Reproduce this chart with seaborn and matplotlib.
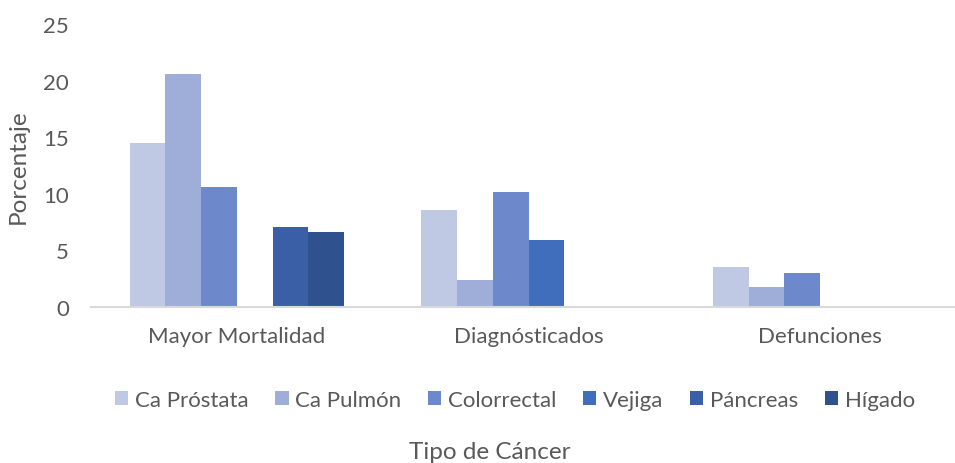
import pandas as pd
import matplotlib.pyplot as plt
import seaborn as sns

# categories and series
categorias = ['Mayor Mortalidad', 'Diagnósticados', 'Defunciones']
series = ['Ca Próstata', 'Ca Pulmón', 'Colorrectal', 'Vejiga', 'Páncreas', 'Hígado']
prostata = [14.5, 8.6, 3.5]
pulmon = [20.6, 2.4, 1.8]
colorrectal = [10.6, 10.2, 3.0]
vejiga = [None, 5.9, None]
pancreas = [7.1, None, None]
higado = [6.6, None, None]

colores = ['#BFC9E3', '#9FAED8', '#6D89CB', '#416EBC', '#3A5FA6', '#2F528F']
gris = '#595959'

valores = [prostata, pulmon, colorrectal, vejiga, pancreas, higado]
rows = []
for serie, vals in zip(series, valores):
    for cat, v in zip(categorias, vals):
        rows.append({'Tipo': cat, 'Serie': serie, 'Porcentaje': v})
df = pd.DataFrame(rows).dropna()

sns.set_style('white')
plt.rcParams['font.family'] = ['Lato', 'DejaVu Sans']

fig = plt.figure(figsize=(9.55, 4.64), dpi=100)
ax = fig.add_axes([91 / 955, 1 - 308 / 464, 875 / 955, 283 / 464])

sns.barplot(data=df, x='Tipo', y='Porcentaje', hue='Serie', order=categorias,
            hue_order=series, palette=colores, width=0.735, gap=0,
            errorbar=None, saturation=1, linewidth=0, ax=ax)

ax.set_ylim(0, 25)
ax.set_xlim(-0.5, 2.5)
ax.set_yticks([0, 5, 10, 15, 20, 25])
ax.tick_params(axis='both', length=0, labelsize=16, labelcolor=gris)
ax.tick_params(axis='y', pad=16)
ax.tick_params(axis='x', pad=14)
for side in ['top', 'right', 'left']:
    ax.spines[side].set_visible(False)
ax.spines['bottom'].set_color('#D9D9D9')
ax.spines['bottom'].set_linewidth(1.5)

ax.set_xlabel('')
ax.set_ylabel('Porcentaje', fontsize=17.5, color=gris, labelpad=10)
fig.text(490 / 955, 1 - 453 / 464, 'Tipo de Cáncer', fontsize=17.5, color=gris,
         ha='center', va='center')

handles, labels = ax.get_legend_handles_labels()
ax.get_legend().remove()
fig.legend(handles, labels, loc='center', bbox_to_anchor=(515 / 955, 1 - 401 / 464),
           ncol=6, frameon=False, fontsize=16, labelcolor=gris,
           handlelength=0.6, handleheight=0.6, handletextpad=0.3, columnspacing=1.2)

fig.savefig('out.png', dpi=100)
